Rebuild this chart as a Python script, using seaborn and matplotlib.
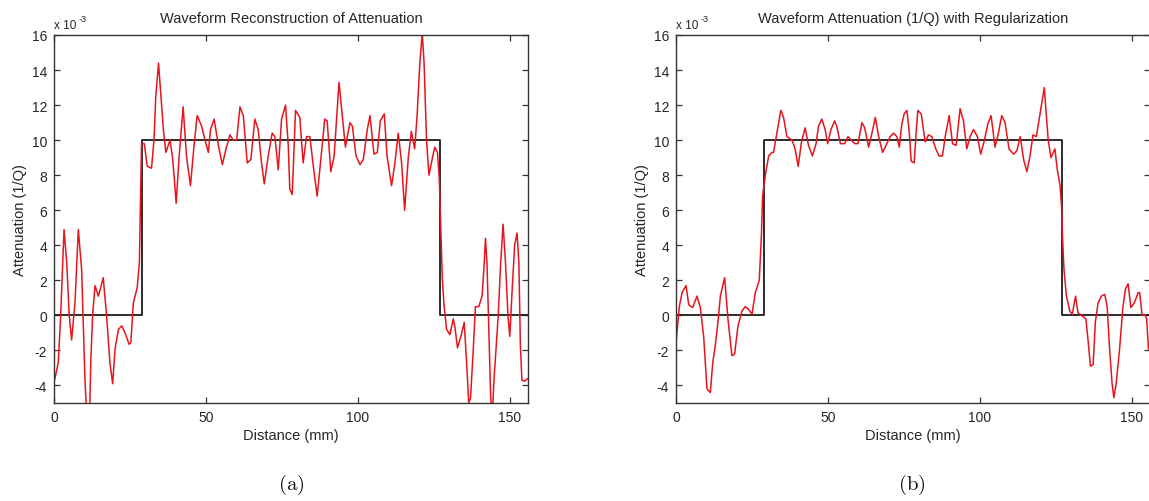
import numpy as np
import pandas as pd
import matplotlib
matplotlib.use("Agg")
import matplotlib.pyplot as plt
import seaborn as sns

# ---------------- data (values in units of 1e-3) ----------------
model_x = [0, 29, 29, 127, 127, 156]
model_y = [0, 0, 10, 10, 0, 0]

recon_x = [0, 0.3, 1.4, 2.2, 3.3, 4.2, 5.0, 5.8, 6.9, 8.0,
           9.1, 10.2, 10.8, 11.3, 11.8, 12.1, 12.7, 13.5, 14.6, 16.2,
           17.3, 18.4, 19.3, 20.1, 21.2, 22.3, 23.4, 24.7, 25.3, 26.1,
           27.4, 28.1, 28.5, 28.8, 29.7, 30.7, 32.1, 32.9, 33.5, 34.4,
           35.2, 36.0, 36.8, 38.2, 39.0, 39.6, 40.2, 41.2, 42.5, 43.6,
           44.9, 46.1, 47.1, 48.6, 49.7, 50.8, 51.5, 52.7, 54.1, 55.4,
           56.6, 57.9, 59.0, 60.1, 61.2, 62.3, 63.6, 64.8, 66.1, 67.2,
           68.3, 69.2, 70.5, 71.8, 72.7, 73.8, 74.9, 76.2, 77.1, 77.6,
           78.4, 79.5, 80.9, 82.0, 83.1, 84.2, 85.5, 86.6, 87.7, 89.1,
           89.9, 91.1, 92.2, 93.8, 95.0, 95.9, 97.4, 98.2, 99.4, 100.7,
           101.8, 103.1, 104.0, 105.3, 106.4, 107.4, 108.7, 109.6, 111.1, 112.2,
           113.3, 114.4, 115.4, 116.6, 117.6, 118.7, 119.5, 120.4, 121.2, 121.8,
           122.6, 123.4, 124.2, 125.3, 126.2, 126.8, 127.3, 127.8, 128.4, 129.2,
           130.3, 131.4, 131.9, 132.8, 133.9, 135.0, 135.8, 136.5, 137.1, 138.0,
           138.7, 139.8, 140.9, 141.6, 142.0, 142.5, 143.1, 143.7, 144.2, 144.8,
           146.2, 147.0, 147.8, 148.6, 149.4, 150.0, 150.8, 151.6, 152.4, 153.0,
           153.5, 154.0, 154.9, 156.0]
recon_y = [-3.8, -3.6, -2.7, 0.0, 4.9, 3.0, 0.0, -1.4, 0.7, 4.9,
           2.6, -3.7, -5.8, -6.5, -5.0, -2.7, 0.0, 1.7, 1.1, 2.15,
           0.0, -2.7, -3.9, -1.9, -0.8, -0.6, -1.0, -1.65, -1.55, 0.7,
           1.6, 3.0, 6.8, 9.8, 9.8, 8.5, 8.4, 10.0, 12.5, 14.4,
           12.5, 10.6, 9.3, 10.0, 9.0, 7.8, 6.4, 9.1, 11.9, 9.1,
           7.4, 9.7, 11.4, 10.8, 10.0, 9.3, 10.6, 11.2, 9.7, 8.6,
           9.5, 10.3, 10.0, 10.0, 11.9, 11.4, 8.7, 8.9, 11.2, 10.6,
           8.7, 7.5, 9.1, 10.4, 10.2, 8.3, 11.2, 12.0, 9.7, 7.2,
           6.9, 11.7, 11.3, 8.7, 10.2, 10.2, 8.3, 6.8, 8.7, 11.2,
           11.1, 8.2, 9.1, 13.3, 11.2, 9.6, 11.0, 10.8, 9.1, 8.6,
           8.9, 10.6, 11.4, 9.2, 9.3, 11.1, 11.5, 9.1, 7.4, 8.7,
           10.4, 8.7, 6.0, 9.0, 10.5, 9.5, 11.4, 14.4, 16.1, 14.4,
           10.0, 8.0, 8.7, 9.6, 9.3, 7.8, 4.9, 2.1, 0.5, -0.8,
           -1.1, -0.2, -0.6, -1.85, -1.2, -0.4, -2.7, -5.0, -4.7, -1.9,
           0.5, 0.5, 1.1, 3.0, 4.4, 3.0, -0.8, -4.6, -5.8, -3.7,
           0.0, 3.0, 5.2, 3.0, 0.0, -1.2, 1.5, 4.0, 4.7, 3.0,
           -1.75, -3.7, -3.75, -3.6]

reg_x = [0, 0.3, 1.1, 2.0, 3.3, 4.2, 5.5, 6.9, 8.0, 9.1,
         10.2, 11.3, 12.1, 12.9, 13.8, 14.6, 16.0, 17.1, 18.4, 19.3,
         20.4, 21.7, 22.8, 23.9, 25.0, 26.1, 27.4, 28.1, 28.5, 29.4,
         30.5, 31.6, 32.1, 33.2, 34.5, 35.4, 36.5, 38.2, 39.2, 40.2,
         41.3, 42.5, 43.6, 44.9, 46.1, 46.9, 48.0, 49.1, 49.9, 51.0,
         52.2, 52.9, 54.1, 55.5, 56.6, 57.7, 58.8, 59.9, 61.2, 62.1,
         63.4, 64.5, 65.6, 66.7, 68.0, 69.4, 70.5, 71.6, 72.7, 73.5,
         74.3, 75.1, 76.0, 76.8, 77.4, 78.4, 79.1, 79.6, 80.7, 82.0,
         83.1, 84.2, 85.5, 86.6, 87.7, 88.6, 89.9, 91.0, 92.2, 93.5,
         94.6, 95.7, 96.8, 97.9, 99.2, 100.3, 101.5, 102.6, 103.7, 105.0,
         106.1, 107.2, 108.3, 109.6, 111.1, 112.2, 113.3, 114.4, 115.5, 116.5,
         117.5, 118.6, 119.7, 121.2, 121.9, 122.5, 123.4, 124.7, 125.5, 126.4,
         126.9, 127.2, 127.7, 128.5, 129.6, 130.4, 131.5, 132.3, 133.4, 134.9,
         135.6, 136.4, 137.3, 138.0, 138.9, 140.0, 141.1, 141.9, 142.7, 143.5,
         144.1, 144.9, 146.0, 147.1, 147.9, 148.8, 149.7, 150.8, 152.1, 152.6,
         153.4, 154.3, 154.9, 155.5, 156.0]
reg_y = [-1.6, -1.0, 0.5, 1.3, 1.7, 0.6, 0.45, 1.1, 0.45, -1.2,
         -4.2, -4.4, -2.7, -1.75, -0.4, 1.1, 2.15, -0.2, -2.3, -2.2,
         -0.6, 0.25, 0.5, 0.35, 0.05, 1.3, 2.0, 4.5, 6.8, 8.0,
         9.1, 9.3, 9.3, 10.4, 11.7, 11.3, 10.2, 10.0, 9.5, 8.5,
         9.9, 10.7, 9.7, 9.1, 9.8, 10.8, 11.2, 10.6, 9.8, 10.6,
         11.1, 10.8, 9.8, 9.8, 10.2, 10.0, 9.8, 9.8, 11.0, 10.7,
         9.6, 10.4, 11.3, 10.2, 9.3, 9.8, 10.2, 10.4, 10.2, 9.6,
         10.9, 11.5, 11.7, 10.4, 8.8, 8.7, 10.6, 11.7, 11.5, 9.9,
         10.3, 10.2, 9.5, 9.1, 9.1, 10.2, 11.4, 9.8, 9.7, 11.8,
         11.1, 9.5, 10.2, 10.6, 10.2, 9.2, 10.0, 10.9, 11.4, 9.6,
         10.4, 11.4, 11.0, 9.5, 9.2, 9.4, 10.2, 8.9, 8.2, 9.1,
         10.3, 10.2, 11.4, 13.0, 11.4, 10.0, 9.0, 9.5, 8.3, 7.4,
         6.2, 4.5, 2.6, 1.1, 0.25, 0.05, 1.1, 0.15, 0.0, -0.2,
         -1.4, -2.9, -2.8, -0.4, 0.7, 1.1, 1.2, 0.5, -1.9, -3.85,
         -4.7, -3.85, -1.9, 0.5, 1.5, 1.8, 0.45, 0.7, 1.3, 1.3,
         0.0, 0.05, -0.2, -1.9, -2.0]

titles = ["Waveform Reconstruction of Attenuation",
          "Waveform Attenuation (1/Q) with Regularization"]
panel_labels = ["(a)", "(b)"]
xticks = [0, 50, 100, 150]
yticks = [-4, -2, 0, 2, 4, 6, 8, 10, 12, 14, 16]

assert len(recon_x) == len(recon_y)
assert len(reg_x) == len(reg_y)

# ---------------- style ----------------
sns.set_style("ticks")
plt.rcParams["font.family"] = ["Liberation Sans", "DejaVu Sans"]
plt.rcParams["mathtext.fontset"] = "cm"
plt.rcParams["axes.unicode_minus"] = False

W, H = 1149, 502
fig = plt.figure(figsize=(W / 100, H / 100), dpi=100)

ax_w = 474 / W
ax_b = 1 - 404 / H
ax_h = (404 - 36) / H
lefts = [54 / W, 676 / W]
label_cx = [291 / W, 912 / W]

series = [(recon_x, recon_y), (reg_x, reg_y)]
text_col = "#262626"

for i in range(2):
    ax = fig.add_axes([lefts[i], ax_b, ax_w, ax_h])
    sx, sy = series[i]
    sns.lineplot(x=model_x, y=model_y, ax=ax, color="#1a1a1a", lw=1.3,
                 sort=False, estimator=None)
    sns.lineplot(x=sx, y=sy, ax=ax, color="#e8141c", lw=1.1,
                 sort=False, estimator=None)
    ax.set_xlim(0, 156)
    ax.set_ylim(-5, 16)
    ax.set_xticks(xticks)
    ax.set_yticks(yticks)
    ax.tick_params(direction="in", length=4, width=0.9, top=True, right=True,
                   labelsize=10, colors="#333333", labelcolor=text_col, pad=5)
    for s in ax.spines.values():
        s.set_visible(True)
        s.set_color("#333333")
        s.set_linewidth(1.0)
    ax.set_title(titles[i], fontsize=10.5, color=text_col, pad=9)
    ax.set_xlabel("Distance (mm)", fontsize=10.5, color=text_col, labelpad=3)
    ax.set_ylabel("Attenuation (1/Q)", fontsize=10.5, color=text_col, labelpad=3)
    # MATLAB-style exponent label "x 10^-3"
    ax.text(0.0, 1.012, "x 10", transform=ax.transAxes, ha="left",
            va="bottom", fontsize=8.5, color=text_col)
    ax.text(0.051, 1.032, "-3", transform=ax.transAxes, ha="left",
            va="bottom", fontsize=6.5, color=text_col)
    fig.text(label_cx[i], 1 - 485 / H, r"$\mathrm{" + panel_labels[i] + "}$",
             ha="center", va="center", fontsize=15, color="#111111")

fig.savefig("out.png", dpi=100)
